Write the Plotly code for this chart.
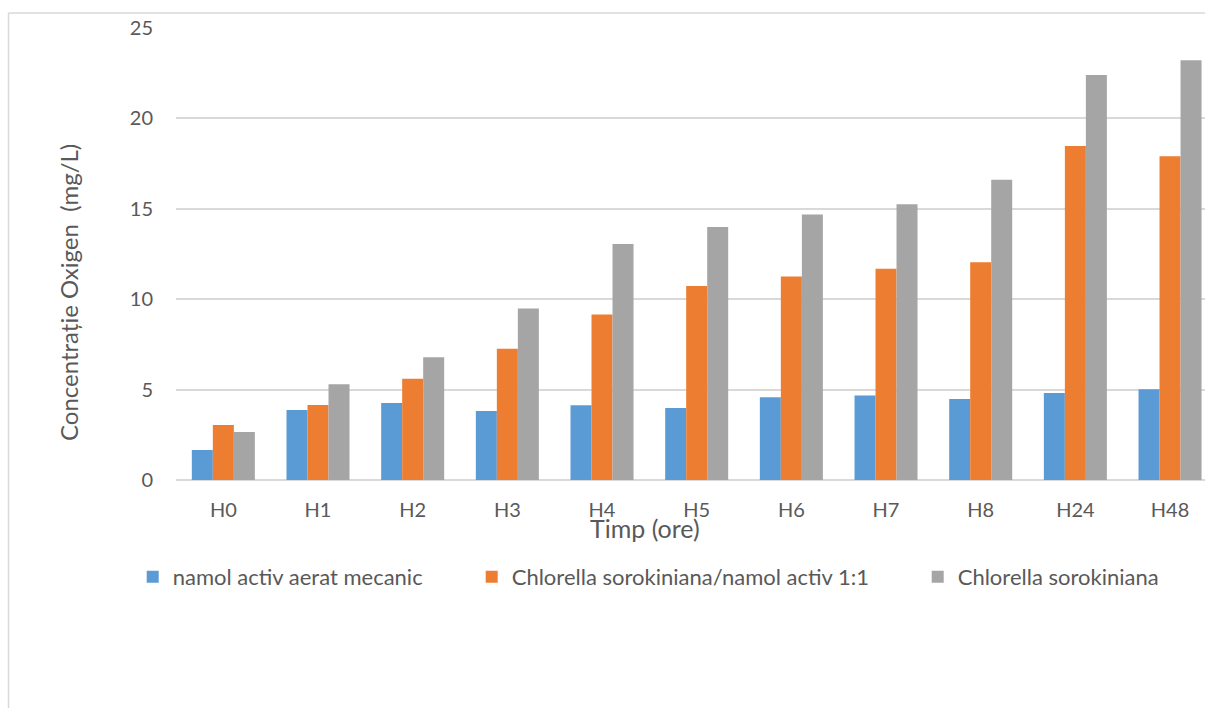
import plotly.graph_objects as go

# Sampling times and dissolved oxygen concentration (mg/L) per culture
categories = ["H0", "H1", "H2", "H3", "H4", "H5", "H6", "H7", "H8", "H24", "H48"]
namol_activ = [1.66, 3.87, 4.26, 3.82, 4.13, 3.98, 4.57, 4.68, 4.48, 4.81, 5.02]
chlorella_namol = [3.04, 4.15, 5.60, 7.26, 9.16, 10.73, 11.26, 11.69, 12.04, 18.47, 17.90]
chlorella = [2.65, 5.29, 6.79, 9.48, 13.05, 13.99, 14.69, 15.25, 16.61, 22.40, 23.21]
y_ticks = [0, 5, 10, 15, 20, 25]

series_names = [
    "namol activ aerat mecanic",
    "Chlorella sorokiniana/namol activ 1:1",
    "Chlorella sorokiniana",
]
colors = ["#5B9BD5", "#ED7D31", "#A5A5A5"]

W, H = 1205, 708
ML, MR, MT, MB = 176, 0, 28, 228
plot_w = W - ML - MR
plot_h = H - MT - MB
cat_px = 94.67  # width of one category slot in pixels


def px_x(x):
    return (x - ML) / plot_w


def px_y(y):
    return (H - MB - y) / plot_h


FONT = "Lato"
TXT = "#595959"
GRID = "#D9D9D9"

fig = go.Figure()
legend_ids = ["legend", "legend2", "legend3"]
for name, vals, col, lg in zip(series_names,
                               [namol_activ, chlorella_namol, chlorella],
                               colors, legend_ids):
    fig.add_trace(go.Bar(x=categories, y=vals, name=name,
                         marker=dict(color=col, line=dict(width=0)),
                         legend=lg))

legend_common = dict(orientation="h", yanchor="middle", xanchor="left",
                     bgcolor="rgba(0,0,0,0)", borderwidth=0,
                     font=dict(family=FONT, size=22, color=TXT))
text_starts = [172.7, 511.7, 957.7]

fig.update_layout(
    width=W, height=H,
    margin=dict(l=ML, r=MR, t=MT, b=MB),
    paper_bgcolor="white", plot_bgcolor="white",
    barmode="group", bargap=0.3345, bargroupgap=0,
    font=dict(family=FONT, color=TXT),
    showlegend=True,
    legend=dict(x=px_x(text_starts[0] - 40), y=px_y(577), **legend_common),
    legend2=dict(x=px_x(text_starts[1] - 40), y=px_y(577), **legend_common),
    legend3=dict(x=px_x(text_starts[2] - 40), y=px_y(577), **legend_common),
    xaxis=dict(
        range=[-0.5, -0.5 + plot_w / cat_px],
        showgrid=False, zeroline=False,
        showline=False, ticks="",
        tickfont=dict(family=FONT, size=20, color=TXT),
        ticklabelstandoff=16,
    ),
    yaxis=dict(
        range=[0, 25], tickvals=y_ticks,
        showgrid=True, gridcolor=GRID, gridwidth=1.5,
        zeroline=True, zerolinecolor=GRID, zerolinewidth=1.5,
        showline=False, ticks="",
        tickfont=dict(family=FONT, size=20, color=TXT),
        ticklabelstandoff=22,
    ),
    annotations=[
        dict(text="Concentrație Oxigen  (mg/L)", textangle=-90,
             xref="paper", yref="paper", x=px_x(68), y=px_y(293),
             showarrow=False, xanchor="center", yanchor="middle",
             font=dict(family=FONT, size=24, color=TXT)),
        dict(text="Timp (ore)",
             xref="paper", yref="paper", x=px_x(644.5), y=px_y(528),
             showarrow=False, xanchor="center", yanchor="middle",
             font=dict(family=FONT, size=25, color=TXT)),
    ],
    shapes=[
        # chart frame (left and top edges)
        dict(type="line", xref="paper", yref="paper",
             x0=px_x(8.5), x1=px_x(8.5), y0=px_y(13), y1=px_y(720),
             line=dict(color=GRID, width=1.5)),
        dict(type="line", xref="paper", yref="paper",
             x0=px_x(8.5), x1=px_x(1220), y0=px_y(13), y1=px_y(13),
             line=dict(color=GRID, width=1.5)),
    ],
)

fig.write_html("out.html")
